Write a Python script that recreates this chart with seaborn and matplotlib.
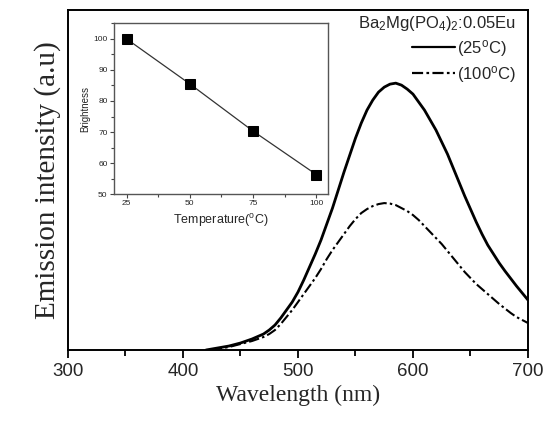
import numpy as np
import pandas as pd
import matplotlib
matplotlib.use("Agg")
import matplotlib.pyplot as plt
from matplotlib.ticker import MultipleLocator
import seaborn as sns

# Emission spectra (arbitrary units)
wavelength_25 = [420, 425, 430, 440, 450, 460, 470, 475, 480, 485, 490, 495, 500, 505, 510,
                 515, 520, 525, 530, 535, 540, 545, 550, 555, 560, 565, 570, 575, 580, 585,
                 590, 595, 600, 605, 610, 615, 620, 625, 630, 635, 640, 645, 650, 655, 660,
                 665, 670, 675, 680, 685, 690, 695, 700]
intensity_25 = [0, 1, 2, 4, 7, 11, 16, 20, 25, 32, 40, 48, 58, 70, 83,
                96, 110, 126, 142, 160, 178, 195, 212, 227, 240, 250, 258, 263, 266, 267,
                265, 261, 256, 248, 240, 230, 220, 208, 196, 182, 168, 154, 141, 128, 116,
                105, 96, 87, 79, 71.5, 64, 57, 50]

wavelength_100 = [425, 430, 440, 450, 460, 470, 475, 480, 485, 490, 495, 500, 505, 510,
                  515, 520, 525, 530, 535, 540, 545, 550, 555, 560, 565, 570, 575, 580, 585,
                  590, 595, 600, 605, 610, 615, 620, 625, 630, 635, 640, 645, 650, 655, 660,
                  665, 670, 675, 680, 685, 690, 695, 700]
intensity_100 = [0, 1, 3, 6, 9, 13, 16, 20, 26, 33, 40, 48, 56, 64,
                 72, 81, 91, 100, 108, 116, 124, 131, 137, 141, 144, 146, 147, 146.5, 145,
                 142, 139, 135, 130, 124, 118, 112, 106, 99, 92, 85, 78, 72, 66, 61,
                 56, 51, 46, 41.5, 37, 33, 30, 27]

series_labels = [r"(25$^{\mathrm{o}}$C)", r"(100$^{\mathrm{o}}$C)"]
legend_title = r"Ba$_2$Mg(PO$_4$)$_2$:0.05Eu"

# Inset: brightness vs temperature
temperature = [25, 50, 75, 100]
brightness = [100, 85.5, 70.3, 56.3]

sns.set_theme(style="white")
plt.rcParams["font.family"] = ["Liberation Sans", "DejaVu Sans"]
plt.rcParams["mathtext.fontset"] = "custom"
plt.rcParams["mathtext.rm"] = "Liberation Sans"
plt.rcParams["mathtext.it"] = "Liberation Sans:italic"
plt.rcParams["mathtext.bf"] = "Liberation Sans:bold"

spectra = pd.concat([
    pd.DataFrame({"wavelength": wavelength_25, "intensity": intensity_25, "series": series_labels[0]}),
    pd.DataFrame({"wavelength": wavelength_100, "intensity": intensity_100, "series": series_labels[1]}),
])

fig = plt.figure(figsize=(5.5, 4.24), dpi=100)
ax = fig.add_axes([0.1236, 0.1745, 0.8364, 0.8015])

sns.lineplot(data=spectra, x="wavelength", y="intensity", hue="series", style="series",
             palette=["black", "black"], dashes=[(None, None), (5, 1.5, 1.2, 1.5)],
             linewidth=1.6, ax=ax, legend=True, sort=False)
for line, lw in zip(ax.lines, [2.0, 1.5]):
    line.set_linewidth(lw)
    line.set_solid_joinstyle("round")
    line.set_dash_joinstyle("round")

ax.set_xlim(300, 700)
ax.set_ylim(0, 340)
ax.set_yticks([])
ax.xaxis.set_major_locator(MultipleLocator(100))
ax.xaxis.set_minor_locator(MultipleLocator(50))
ax.tick_params(axis="x", which="major", direction="out", length=6, width=1.3,
               labelsize=13.5, color="black", bottom=True, pad=3)
ax.tick_params(axis="x", which="minor", direction="out", length=4, width=1.3,
               color="black", bottom=True)
for s in ax.spines.values():
    s.set_color("black")
    s.set_linewidth(1.4)

ax.set_xlabel("Wavelength (nm)", family=["Liberation Serif"], fontsize=17, labelpad=4)
ax.set_ylabel("Emission intensity (a.u)", family=["Liberation Serif"], fontsize=21, labelpad=5)

leg = ax.legend(title=legend_title, loc="upper right", frameon=False, fontsize=12,
                title_fontsize=12, handlelength=2.6, handletextpad=0.15,
                borderaxespad=0.0, borderpad=0.2, labelspacing=0.3, alignment="right",
                bbox_to_anchor=(0.982, 1.0))
for h in leg.get_lines():
    h.set_color("black")

# Inset axes
ins = fig.add_axes([0.207, 0.542, 0.389, 0.403])
sns.lineplot(x=temperature, y=brightness, color="#333333", linewidth=0.9,
             marker="s", markersize=7, markerfacecolor="black", markeredgecolor="black",
             ax=ins)
ins.set_xlim(20, 104.5)
ins.set_ylim(50, 105)
ins.xaxis.set_major_locator(MultipleLocator(25))
ins.xaxis.set_minor_locator(MultipleLocator(12.5))
ins.yaxis.set_major_locator(MultipleLocator(10))
ins.yaxis.set_minor_locator(MultipleLocator(5))
ins.tick_params(which="major", direction="out", length=3, width=0.8, labelsize=6,
                color="#444444", bottom=True, left=True, pad=1.5)
ins.tick_params(which="minor", direction="out", length=2, width=0.8,
                color="#444444", bottom=True, left=True)
for s in ins.spines.values():
    s.set_color("#555555")
    s.set_linewidth(1.0)
ins.set_xlabel(r"Temperature($^{\mathrm{o}}$C)", fontsize=9, labelpad=3)
ins.set_ylabel("Brightness", fontsize=7, labelpad=2)

fig.savefig("out.png", dpi=100)
